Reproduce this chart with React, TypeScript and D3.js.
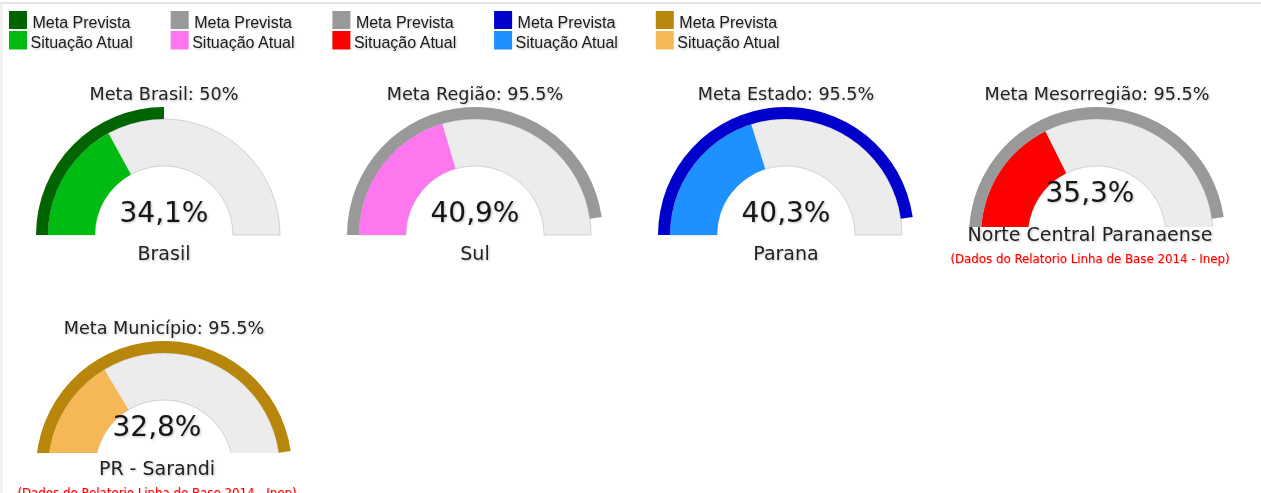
import React from "react";
import * as d3 from "d3";

// ---- data ----
const levels = ["Brasil", "Região", "Estado", "Mesorregião", "Município"];
const places = ["Brasil", "Sul", "Parana", "Norte Central Paranaense", "PR - Sarandi"];
const metaValues = [50, 95.5, 95.5, 95.5, 95.5];
const currentValues = [34.1, 40.9, 40.3, 35.3, 32.8];
const showNote = [false, false, false, true, true];
const noteText = "(Dados do Relatorio Linha de Base 2014 - Inep)";
const gaugeMetaColors = ["#006400", "#999999", "#0000cd", "#999999", "#b8860b"];
const gaugeCurrentColors = ["#00bb11", "#ff77ee", "#1e90ff", "#ff0000", "#f6b756"];
// legend entries (order as shown in the legend)
const legendMetaLabel = "Meta Prevista";
const legendCurrentLabel = "Situação Atual";
const legendMetaColors = ["#006400", "#999999", "#999999", "#0000cd", "#b8860b"];
const legendCurrentColors = ["#00bb11", "#ff77ee", "#ff0000", "#1e90ff", "#f6b756"];

const W = 1261;
const H = 493;

const angle = d3.scaleLinear().domain([0, 100]).range([-Math.PI / 2, Math.PI / 2]);
const fmtMeta = (v: number) => `${v}%`;
const fmtCur = (v: number) => `${v.toFixed(1).replace(".", ",")}%`;

const R_IN = 69;
const R_OUT = 116;
const R_META = 128;

const bgPath = d3.arc<any>().innerRadius(R_IN).outerRadius(R_OUT).startAngle(angle(0)).endAngle(angle(100))({}) as string;
const valArc = (v: number) =>
  d3.arc<any>().innerRadius(R_IN).outerRadius(R_OUT).startAngle(angle(0)).endAngle(angle(v))({}) as string;
const metaArc = (v: number) =>
  d3.arc<any>().innerRadius(R_OUT).outerRadius(R_META).startAngle(angle(0)).endAngle(angle(v))({}) as string;

const clipAbove = [0, 0, 0, 8, 16];

export default function App() {
  const gaugeFont = "'DejaVu Sans', Verdana, sans-serif";
  return (
    <div style={{ position: "absolute", left: 0, top: 0, width: W, height: H, overflow: "hidden", background: "#fff" }}>
      <svg width={W} height={H} style={{ display: "block" }}>
        <defs>
          <filter id="ts" x="-10%" y="-30%" width="120%" height="160%">
            <feDropShadow dx="1" dy="1" stdDeviation="0.8" floodColor="#000" floodOpacity="0.25" />
          </filter>
          <filter id="tsr" x="-10%" y="-30%" width="120%" height="160%">
            <feDropShadow dx="0.6" dy="0.6" stdDeviation="0.6" floodColor="#ff0000" floodOpacity="0.35" />
          </filter>
          {places.map((_, i) => {
            const col = i % 4;
            const row = Math.floor(i / 4);
            const cx = 164 + col * 311;
            const by = 235 + row * 234;
            const cut = clipAbove[i] ? by - clipAbove[i] : by + 2;
            return (
              <clipPath id={`clip${i}`} key={i} clipPathUnits="userSpaceOnUse">
                <rect x={cx - 140} y={by - 150} width={280} height={cut - (by - 150)} />
              </clipPath>
            );
          })}
        </defs>
        {/* container borders */}
        <line x1={0} x2={W} y1={3} y2={3} stroke="#e4e4e4" strokeWidth={2} />
        <line x1={1.5} x2={1.5} y1={3} y2={H} stroke="#ececec" strokeWidth={2} />

        {/* legend */}
        {legendMetaColors.map((c, i) => {
          const x = 9 + i * 161.7;
          return (
            <g key={i} fontFamily="'Liberation Sans', Arial, sans-serif" fontSize={16} fill="#1a1a1a">
              <rect x={x} y={11} width={18} height={18} fill={c} />
              <rect x={x} y={31} width={18} height={18.5} fill={legendCurrentColors[i]} />
              <text x={x + 23.5} y={27.7} filter="url(#ts)">{legendMetaLabel}</text>
              <text x={x + 21.5} y={48.3} filter="url(#ts)">{legendCurrentLabel}</text>
            </g>
          );
        })}

        {/* gauges */}
        {places.map((p, i) => {
          const col = i % 4;
          const row = Math.floor(i / 4);
          const cx = 164 + col * 311;
          const by = 235 + row * 234;
          const note = showNote[i];
          const tx = note ? cx - 7 : cx;
          return (
            <g key={p}>
              <text x={cx} y={by - 135} textAnchor="middle" fontFamily={gaugeFont} fontSize={17.6} fill="#222" filter="url(#ts)">
                {`Meta ${levels[i]}: ${fmtMeta(metaValues[i])}`}
              </text>
              <g clipPath={`url(#clip${i})`}>
                <g transform={`translate(${cx},${by})`}>
                  <path d={bgPath} fill="#ececec" stroke="#d2d2d2" strokeWidth={1} />
                  <path d={valArc(currentValues[i])} fill={gaugeCurrentColors[i]} />
                  <path d={metaArc(metaValues[i])} fill={gaugeMetaColors[i]} />
                </g>
              </g>
              <text x={tx} y={note ? by - 33.5 : by - 13} textAnchor="middle" fontFamily={gaugeFont} fontSize={28} fill="#161616" filter="url(#ts)">
                {fmtCur(currentValues[i])}
              </text>
              <text x={tx} y={note ? by + 5.5 : by + 24.5} textAnchor="middle" fontFamily={gaugeFont} fontSize={19} fill="#222" filter="url(#ts)">
                {p}
              </text>
              {note && (
                <text x={tx} y={by + 27.5} textAnchor="middle" fontFamily={gaugeFont} fontSize={11.8} fill="#ff0000" filter="url(#tsr)">
                  {noteText}
                </text>
              )}
            </g>
          );
        })}
      </svg>
    </div>
  );
}
